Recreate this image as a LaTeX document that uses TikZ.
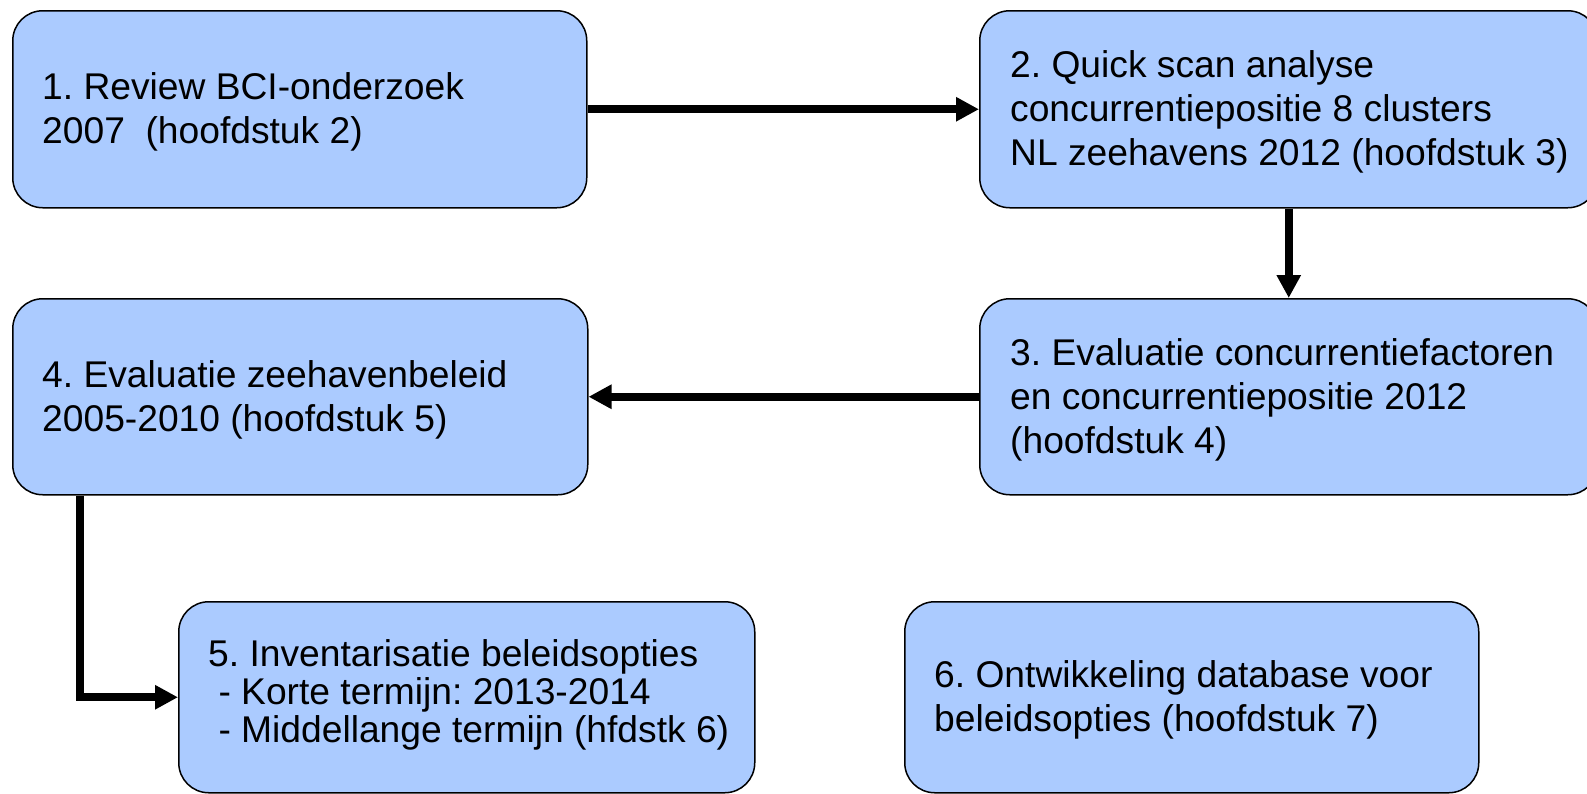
\documentclass[tikz,border=0pt]{standalone}
\usepackage{fontspec}
\setmainfont{Liberation Sans}
\usetikzlibrary{arrows.meta}
\definecolor{boxblue}{HTML}{ABCBFF}
\tikzset{
  box/.style={draw=black, line width=1.5pt, fill=boxblue, rounded corners=30pt,
    inner sep=0pt, anchor=north west},
  txt/.style={align=left, inner sep=0pt, anchor=west, yshift=-3pt,
    font=\fontsize{37.2}{44}\selectfont\frenchspacing},
  conn/.style={line width=8pt, -{Triangle[length=23pt,width=23pt]}}
}
\begin{document}
\begin{tikzpicture}[x=1pt,y=-1pt]
\useasboundingbox (0,0) rectangle (1587,793);
\node[box, minimum width=574pt, minimum height=197pt] (b1) at (12,10) {};
\node[box, minimum width=618pt, minimum height=197pt] (b2) at (979,10) {};
\node[box, minimum width=618pt, minimum height=196pt] (b3) at (979,298) {};
\node[box, minimum width=575pt, minimum height=196pt] (b4) at (12,298) {};
\node[box, minimum width=576pt, minimum height=191pt] (b5) at (178,601) {};
\node[box, minimum width=574pt, minimum height=191pt] (b6) at (904,601) {};
\node[txt] (t1) at ([xshift=30pt]b1.west) {1. Review BCI-onderzoek\\2007\ \ (hoofdstuk 2)};
\node[txt] (t2) at ([xshift=31pt]b2.west) {2. Quick scan analyse\\concurrentiepositie 8 clusters\\NL zeehavens 2012 (hoofdstuk 3)};
\node[txt] (t3) at ([xshift=31pt]b3.west) {3. Evaluatie concurrentiefactoren\\en concurrentiepositie 2012\\(hoofdstuk 4)};
\node[txt] (t4) at ([xshift=30pt]b4.west) {4. Evaluatie zeehavenbeleid\\2005-2010 (hoofdstuk 5)};
\node[txt, yshift=5pt, font=\fontsize{37.2}{38}\selectfont\frenchspacing] (t5) at ([xshift=30pt]b5.west) {5. Inventarisatie beleidsopties\\\ - Korte termijn: 2013-2014\\\ - Middellange termijn (hfdstk 6)};
\node[txt] (t6) at ([xshift=30pt]b6.west) {6. Ontwikkeling database voor\\beleidsopties (hoofdstuk 7)};
\draw[conn] (b1.east) -- (b2.west);
\draw[conn] (b2.south) -- (b3.north);
\draw[conn] (b3.west) -- (b4.east);
\draw[conn] ([xshift=68pt]b4.south west) |- (b5.west);
\end{tikzpicture}
\end{document}
